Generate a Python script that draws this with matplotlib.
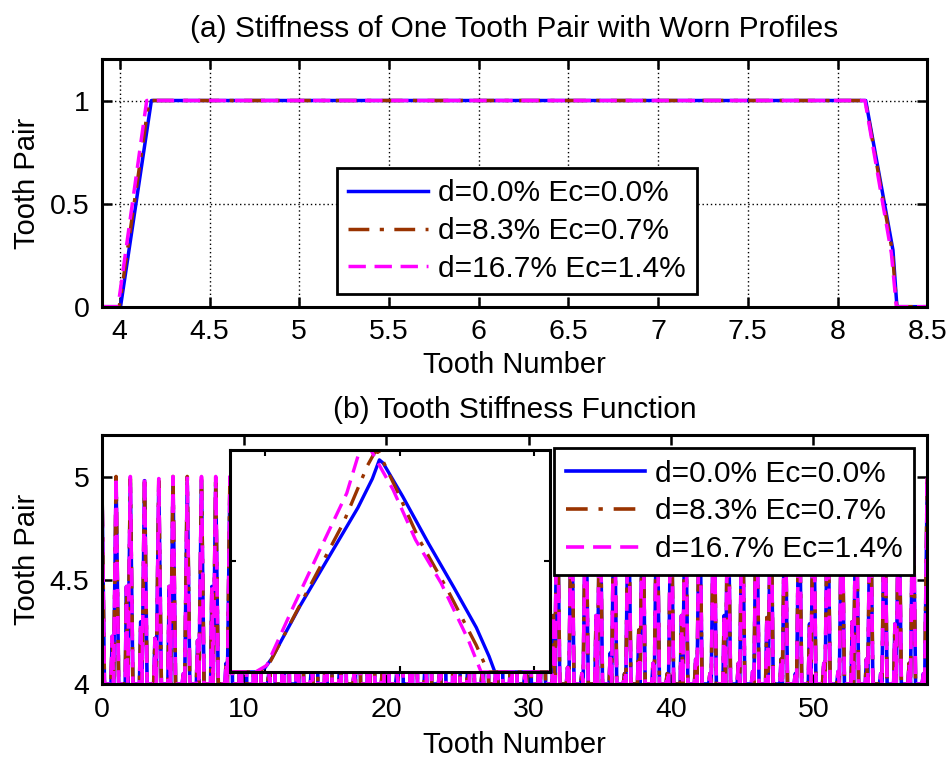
import matplotlib.pyplot as plt

plt.rcParams['font.family'] = ['Liberation Sans', 'DejaVu Sans']

# --- (a) stiffness of one tooth pair, three wear levels
a_x_d0 = [3.9, 4.004, 4.176, 8.157, 8.309, 8.331, 8.5]
a_y_d0 = [0, 0, 1, 1, 0.274, 0, 0]
a_x_d8 = [3.9, 3.997, 4.163, 8.155, 8.305, 8.330, 8.5]
a_y_d8 = [0, 0, 1, 1, 0.27, 0, 0]
a_x_d16 = [3.9, 3.99, 4.15, 8.153, 8.300, 8.328, 8.5]
a_y_d16 = [0, 0, 1, 1, 0.26, 0, 0]

labels = ['d=0.0% Ec=0.0%', 'd=8.3% Ec=0.7%', 'd=16.7% Ec=1.4%']
colors = ['#0000ff', '#993300', '#ff00ff']
styles = ['-', (0, (6, 3, 1.2, 3)), (0, (5, 2.5))]

# --- (b) tooth stiffness function: main peak and small side peak per tooth
peak_d0 = [4.99, 4.97, 4.97, 4.98, 4.96, 4.97, 4.97, 4.98, 4.97, 4.97,
           4.97, 4.98, 4.97, 4.97, 4.96, 4.97, 4.98, 4.97, 4.97, 4.97,
           4.98, 4.97, 4.97, 4.97, 4.96, 4.97, 4.98, 4.97, 4.97, 4.97,
           4.98, 4.97, 4.97, 4.96, 4.97, 4.98, 4.97, 4.97, 4.97, 4.98,
           4.97, 4.97, 4.96, 4.97, 4.98, 4.97, 4.97, 4.97, 4.98, 4.97,
           4.97, 4.96, 4.97, 4.98, 4.97, 4.97, 4.97, 4.98, 4.97]
peak_d8 = [5.0, 5.0, 4.99, 5.0, 4.98, 5.0, 5.0, 4.99, 5.0, 5.0,
           5.0, 5.0, 4.99, 5.0, 5.0, 5.0, 4.99, 5.0, 5.0, 5.0,
           5.0, 4.99, 5.0, 5.0, 5.0, 5.0, 4.99, 5.0, 5.0, 5.0,
           5.0, 4.99, 5.0, 5.0, 5.0, 5.0, 4.99, 5.0, 5.0, 5.0,
           5.0, 4.99, 5.0, 5.0, 5.0, 5.0, 4.99, 5.0, 5.0, 5.0,
           5.0, 4.99, 5.0, 5.0, 5.0, 5.0, 4.99, 5.0, 5.0]
peak_d16 = [5.0, 5.0, 5.0, 5.0, 4.99, 5.0, 5.0, 5.0, 5.0, 5.0,
            5.0, 5.0, 5.0, 5.0, 5.0, 5.0, 5.0, 5.0, 5.0, 5.0,
            5.0, 5.0, 5.0, 5.0, 5.0, 5.0, 5.0, 5.0, 5.0, 5.0,
            5.0, 5.0, 5.0, 5.0, 5.0, 5.0, 5.0, 5.0, 5.0, 5.0,
            5.0, 5.0, 5.0, 5.0, 5.0, 5.0, 5.0, 5.0, 5.0, 5.0,
            5.0, 5.0, 5.0, 5.0, 5.0, 5.0, 5.0, 5.0, 5.0]
side_peak = [4.0, 4.23, 4.47, 4.30, 4.22, 4.47, 4.05, 4.21, 4.47, 4.10,
             4.22, 4.45, 4.05, 4.22, 4.46, 4.08, 4.30, 4.12, 4.05, 4.31,
             4.10, 4.06, 4.32, 4.12, 4.05, 4.30, 4.10, 4.06, 4.31, 4.12,
             4.05, 4.10, 4.33, 4.08, 4.05, 4.33, 4.15, 4.05, 4.26, 4.10,
             4.05, 4.33, 4.12, 4.05, 4.33, 4.10, 4.06, 4.32, 4.12, 4.05,
             4.29, 4.10, 4.06, 4.30, 4.12, 4.05, 4.29, 4.10, 4.05]

# zoomed view of one mesh cycle (normalised units)
z_x_d0 = [0, 0.083, 0.11, 0.13, 0.22, 0.31, 0.40, 0.445, 0.467,
          0.479, 0.54, 0.62, 0.70, 0.77, 0.81, 0.828, 1.0]
z_y_d0 = [0, 0, 0.02, 0.06, 0.30, 0.52, 0.74, 0.87, 0.955,
          0.94, 0.79, 0.58, 0.38, 0.20, 0.07, 0, 0]
z_x_d8 = [0, 0.088, 0.12, 0.20, 0.354, 0.43, 0.453, 0.465, 0.521, 0.59,
          0.68, 0.77, 0.807, 1.0]
z_y_d8 = [0, 0, 0.03, 0.25, 0.67, 0.93, 0.99, 0.99, 0.82, 0.60,
          0.37, 0.12, 0, 0]
z_x_d16 = [0, 0.08, 0.115, 0.198, 0.281, 0.365, 0.406, 0.44, 0.51, 0.58,
           0.66, 0.745, 0.785, 1.0]
z_y_d16 = [0, 0, 0.03, 0.294, 0.55, 0.805, 1.0, 1.0, 0.82, 0.595,
           0.40, 0.144, 0, 0]


def mesh_curve(peaks, side):
    # one side bump and one main bump per tooth, base level 4
    xs, ys = [], []
    for k, (h1, h2) in enumerate(zip(peaks, side)):
        xs += [k - 0.36, k - 0.27, k - 0.18, k, k + 0.18]
        ys += [4, h2, 4, h1, 4]
    return xs, ys


def style_axes(ax):
    for s in ax.spines.values():
        s.set_linewidth(2.2)
    ax.tick_params(direction='in', length=7, width=1.8, top=True, right=True,
                   labelsize=20.5, pad=9)


def add_legend(ax, anchor):
    leg = ax.legend(loc='upper left', bbox_to_anchor=anchor, borderaxespad=0,
                    fontsize=21.5, handlelength=2.67, handletextpad=0.33,
                    labelspacing=0.33, borderpad=0.38, fancybox=False,
                    framealpha=1, edgecolor='black')
    leg.get_frame().set_linewidth(2.0)
    leg.set_zorder(10)
    return leg


fig = plt.figure(figsize=(9.52, 7.58), dpi=100)

# (a)
ax1 = fig.add_axes([0.107, 0.5954, 0.867, 0.3264])
ax1.plot(a_x_d0, a_y_d0, color=colors[0], ls=styles[0], lw=2.5, label=labels[0])
ax1.plot(a_x_d8, a_y_d8, color=colors[1], ls=styles[1], lw=2.5, label=labels[1])
ax1.plot(a_x_d16, a_y_d16, color=colors[2], ls=styles[2], lw=2.5, label=labels[2])
ax1.set_xlim(3.9, 8.5)
ax1.set_ylim(0, 1.2)
ax1.set_xticks([4, 4.5, 5, 5.5, 6, 6.5, 7, 7.5, 8, 8.5])
ax1.set_xticklabels(['4', '4.5', '5', '5.5', '6', '6.5', '7', '7.5', '8', '8.5'])
ax1.set_yticks([0, 0.5, 1])
ax1.set_yticklabels(['0', '0.5', '1'])
ax1.grid(True, color='black', ls=(0, (1, 2)), lw=1.0)
style_axes(ax1)
ax1.set_xlabel('Tooth Number', fontsize=21, labelpad=4)
ax1.set_ylabel('Tooth Pair', fontsize=21, labelpad=6)
ax1.set_title('(a) Stiffness of One Tooth Pair with Worn Profiles', fontsize=21.5, pad=16)
add_legend(ax1, (0.285, 0.561))

# (b)
ax2 = fig.add_axes([0.107, 0.0976, 0.867, 0.3285])
for peaks, c, s, lab in zip([peak_d0, peak_d8, peak_d16], colors, styles, labels):
    bx, by = mesh_curve(peaks, side_peak)
    ax2.plot(bx, by, color=c, ls=s, lw=2.6, label=lab)
ax2.set_xlim(0, 58)
ax2.set_ylim(4, 5.2)
ax2.set_xticks([0, 10, 20, 30, 40, 50])
ax2.set_yticks([4, 4.5, 5])
ax2.set_yticklabels(['4', '4.5', '5'])
style_axes(ax2)
ax2.set_xlabel('Tooth Number', fontsize=21, labelpad=6)
ax2.set_ylabel('Tooth Pair', fontsize=21, labelpad=6)
ax2.set_title('(b) Tooth Stiffness Function', fontsize=21.5, pad=12)
add_legend(ax2, (0.548, 0.947))

# zoom on one mesh cycle
ax3 = fig.add_axes([0.2416, 0.1135, 0.336, 0.293])
ax3.plot(z_x_d0, z_y_d0, color=colors[0], ls=styles[0], lw=2.4)
ax3.plot(z_x_d8, z_y_d8, color=colors[1], ls=styles[1], lw=2.4)
ax3.plot(z_x_d16, z_y_d16, color=colors[2], ls=styles[2], lw=2.4)
ax3.set_xlim(0, 1)
ax3.set_ylim(0, 1.0)
ax3.set_xticks([0.11, 0.53, 0.95])
ax3.set_yticks([0.5])
ax3.tick_params(direction='in', length=4, width=1.5, top=True, right=True,
                labelbottom=False, labelleft=False)
for s in ax3.spines.values():
    s.set_linewidth(2.2)

fig.savefig('out.png', dpi=100)
